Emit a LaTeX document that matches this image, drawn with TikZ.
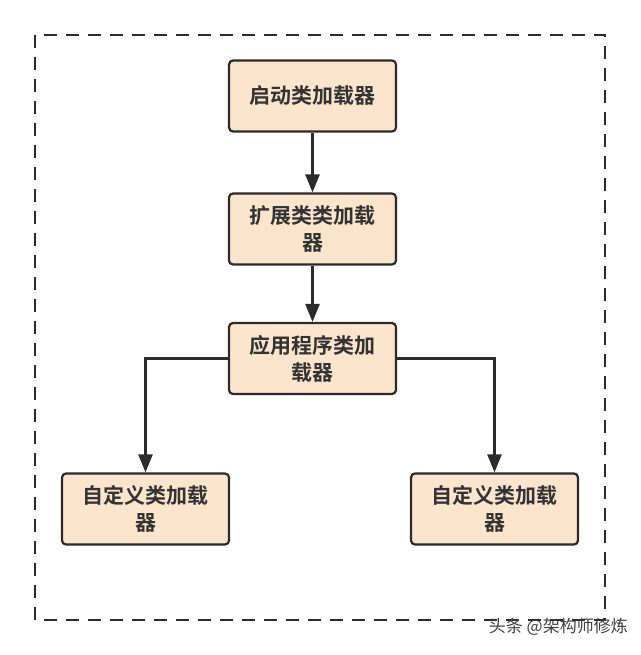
\documentclass[tikz,border=0pt]{standalone}
\usepackage{fontspec}
\newfontfamily\cjk{Noto Sans CJK SC}[BoldFont={* Bold}]
\usetikzlibrary{arrows.meta,positioning}
\definecolor{boxfill}{RGB}{252,229,205}
\definecolor{boxline}{RGB}{43,43,43}
\definecolor{txt}{RGB}{51,51,51}
\tikzset{
  x=1pt,y=-1pt,
  loader/.style={draw=boxline,fill=boxfill,line width=2.2pt,rounded corners=4pt,
    minimum width=167pt,minimum height=71pt,inner sep=0pt,align=center,
    font=\cjk\bfseries\fontsize{21}{27}\selectfont,text=txt},
  link/.style={draw=boxline,line width=2.5pt,-{Triangle[length=18pt,width=14pt]}},
  frame/.style={draw=boxline,line width=2.5pt,dash pattern=on 13pt off 9pt},
}
\begin{document}
\begin{tikzpicture}
\useasboundingbox (0,0) rectangle (640,655);
\draw[frame] (35,35) rectangle (605,620);
\node[loader] (boot) at (312.5,96) {启动类加载器};
\node[loader] (ext) at (312.5,229) {扩展类类加载\\器};
\node[loader] (app) at (312.5,358.5) {应用程序类加\\载器};
\node[loader] (c1) at (145.5,509) {自定义类加载\\器};
\node[loader] (c2) at (494.5,509) {自定义类加载\\器};
\draw[link] (boot) -- (ext);
\draw[link] (ext) -- (app);
\draw[link] (app.west) -| (c1.north);
\draw[link] (app.east) -| (c2.north);
\node[font=\cjk\fontsize{17}{17}\selectfont,text=black!75,anchor=east,inner sep=0pt] (wm) at (628,627) {头条 @架构师修炼};
\end{tikzpicture}
\end{document}
